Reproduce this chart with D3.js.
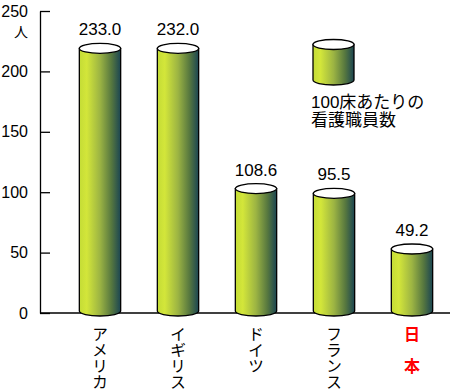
<!DOCTYPE html>
<html>
<head>
<meta charset="utf-8">
<script src="https://cdn.jsdelivr.net/npm/d3@7"></script>
<style>
  body { margin: 0; background: #fff; }
  svg { display: block; font-family: "Liberation Sans", Arial, "Noto Sans CJK JP", sans-serif; }
</style>
</head>
<body>
<svg id="chart" width="450" height="390"></svg>
<script>
// data
const countries = ["アメリカ", "イギリス", "ドイツ", "フランス", "日　本"];
const nurses = [233.0, 232.0, 108.6, 95.5, 49.2];          // value labels
// height the illustration actually gives each cylinder (read off the picture, not to scale)
const drawnLevels = [219, 219, 103, 99, 53];
const yTicks = [0, 50, 100, 150, 200, 250];
const legendLines = ["100床あたりの", "看護職員数"];

const svg = d3.select("#chart");

// scales
const y = d3.scaleLinear().domain([0, 250]).range([313, 11]);
const x = d3.scaleBand()
    .domain(countries)
    .range([61, 451])
    .paddingInner(0.47)
    .paddingOuter(0.235);

// gradient for cylinder bodies
const grad = svg.append("defs").append("linearGradient")
    .attr("id", "cyl")
    .attr("x1", "0%").attr("x2", "100%")
    .attr("y1", "0%").attr("y2", "0%");
[["0%", "#c4dc36"], ["18%", "#d3e63a"], ["50%", "#9cb443"], ["78%", "#56773f"], ["100%", "#1b4552"]]
    .forEach(([o, c]) => grad.append("stop").attr("offset", o).attr("stop-color", c));

const RY = 5;
function cylinder(g, x0, w, yTop, yBot) {
    const rx = w / 2, cx = x0 + rx;
    g.append("path")
        .attr("d", `M${x0},${yTop}L${x0},${yBot}A${rx},${RY} 0 0 0 ${x0 + w},${yBot}L${x0 + w},${yTop}Z`)
        .attr("fill", "url(#cyl)")
        .attr("stroke", "#000")
        .attr("stroke-width", 1.3);
    g.append("ellipse")
        .attr("cx", cx).attr("cy", yTop)
        .attr("rx", rx).attr("ry", RY)
        .attr("fill", "#fff")
        .attr("stroke", "#000")
        .attr("stroke-width", 1.3);
}

// y axis, ticks pointing inward
svg.append("g")
    .attr("transform", "translate(40,0)")
    .call(d3.axisLeft(y).tickValues(yTicks).tickSizeInner(-10).tickSizeOuter(0).tickPadding(12))
    .call(g => g.selectAll("line, path").attr("stroke", "#000").attr("stroke-width", 1.3))
    .call(g => g.selectAll("text").attr("font-size", 16).attr("fill", "#000")
        .attr("font-family", "Liberation Sans, Arial, sans-serif"));

svg.append("text")
    .attr("x", 28).attr("y", 37)
    .attr("text-anchor", "end")
    .attr("font-size", 14)
    .attr("font-family", "Noto Sans CJK JP")
    .text("人");

// x axis line
svg.append("line")
    .attr("x1", 40).attr("x2", 450)
    .attr("y1", y(0)).attr("y2", y(0))
    .attr("stroke", "#000").attr("stroke-width", 1.3);

// cylinders
const bars = svg.append("g");
countries.forEach((c, i) => {
    cylinder(bars, x(c), x.bandwidth(), y(drawnLevels[i]), y(0) - 2);
});

// value labels
svg.append("g").selectAll("text")
    .data(nurses)
    .join("text")
    .attr("x", (_d, i) => x(countries[i]) + x.bandwidth() / 2)
    .attr("y", (_d, i) => y(drawnLevels[i]) - RY - 8)
    .attr("text-anchor", "middle")
    .attr("font-size", 17)
    .text(d => d.toFixed(1));

// category labels, vertical
svg.append("g").selectAll("text")
    .data(countries)
    .join("text")
    .attr("x", d => x(d) + x.bandwidth() / 2)
    .attr("y", 326)
    .attr("font-size", 16)
    .attr("font-family", "Noto Sans CJK JP")
    .style("writing-mode", "vertical-rl")
    .style("text-orientation", "upright")
    .attr("fill", (_d, i) => i === countries.length - 1 ? "#ff0000" : "#000")
    .attr("font-weight", (_d, i) => i === countries.length - 1 ? "bold" : "normal")
    .text(d => d);

// legend
const legend = svg.append("g");
cylinder(legend, 313, 41, 44.5, 80);
legend.selectAll("text")
    .data(legendLines)
    .join("text")
    .attr("x", 311)
    .attr("y", (_d, i) => 108 + i * 18)
    .attr("font-size", 17)
    .attr("font-family", "Liberation Sans, Noto Sans CJK JP, sans-serif")
    .text(d => d);
</script>
</body>
</html>
